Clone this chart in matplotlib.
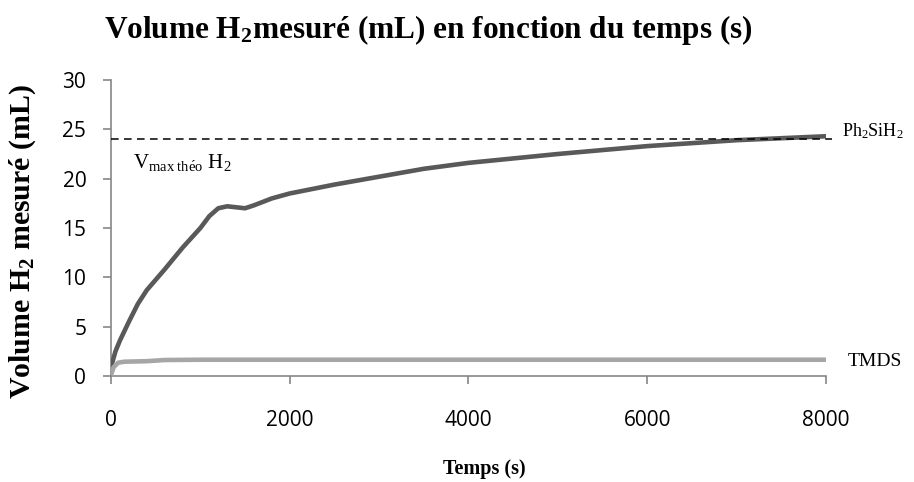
import matplotlib.pyplot as plt
import numpy as np

plt.rcParams["mathtext.fontset"] = "custom"
plt.rcParams["mathtext.rm"] = "Liberation Serif"
plt.rcParams["mathtext.it"] = "Liberation Serif:italic"
plt.rcParams["mathtext.bf"] = "Liberation Serif:bold"

# Ph2SiH2 curve (dark)
t_ph = [0, 50, 100, 200, 300, 400, 600, 800, 1000, 1100, 1200, 1300, 1400,
        1500, 1600, 1800, 2000, 2500, 3000, 3500, 4000, 5000, 6000, 7000, 8000]
v_ph = [0.9, 2.5, 3.6, 5.5, 7.3, 8.7, 10.8, 13.0, 15.0, 16.2, 17.0, 17.2, 17.1,
        17.0, 17.3, 18.0, 18.5, 19.4, 20.2, 21.0, 21.6, 22.5, 23.3, 23.9, 24.3]

# TMDS curve (light)
t_tm = [0, 30, 80, 150, 400, 600, 1000, 2000, 4000, 6000, 8000]
v_tm = [0.1, 0.9, 1.35, 1.45, 1.5, 1.62, 1.65, 1.65, 1.65, 1.65, 1.65]

v_max = 24.0
xticks = [0, 2000, 4000, 6000, 8000]
yticks = [0, 5, 10, 15, 20, 25, 30]

serif = "Liberation Serif"
axis_gray = "#868686"

fig = plt.figure(figsize=(9.14, 4.82), dpi=100)
ax = fig.add_axes([111 / 914, 1 - 376 / 482, 715 / 914, 296 / 482])

ax.plot(t_ph, v_ph, color="#595959", lw=3.3, solid_capstyle="butt", zorder=3)
ax.plot(t_tm, v_tm, color="#a6a6a6", lw=3.3, solid_capstyle="butt", zorder=3)
ax.plot([0, 8070], [v_max, v_max], color="black", lw=1.1, ls=(0, (5, 3.5)),
        clip_on=False, zorder=4)

ax.set_xlim(0, 8000)
ax.set_ylim(0, 30)
ax.set_xticks(xticks)
ax.set_yticks(yticks)
for s in ["top", "right"]:
    ax.spines[s].set_visible(False)
for s in ["left", "bottom"]:
    ax.spines[s].set_color(axis_gray)
    ax.spines[s].set_linewidth(1.2)
ax.tick_params(axis="both", direction="out", length=5.8, color=axis_gray,
               width=1.2, labelsize=15)
ax.tick_params(axis="y", pad=12)
ax.tick_params(axis="x", pad=19)
for lab in ax.get_xticklabels() + ax.get_yticklabels():
    lab.set_family("Open Sans")

ax.text(8179, 24.8, r"Ph$_2$SiH$_2$", family=serif, fontsize=13,
        va="center", ha="left", clip_on=False)
ax.text(8246, 1.47, "TMDS", family=serif, fontsize=14, va="center",
        ha="left", clip_on=False)
ax.text(246, 21.6, r"V$_{\mathrm{max\ th\acute{e}o}}$ H$_2$", family=serif,
        fontsize=15, va="center", ha="left")

fig.text(484 / 914, 1 - 469 / 482, "Temps (s)", family=serif,
         fontweight="bold", fontsize=14.5, ha="center", va="center")
fig.text(23 / 914, 1 - 242 / 482, r"Volume $\mathbf{H_2}$ mesuré (mL)",
         family=serif, fontweight="bold", fontsize=21.5, rotation=90,
         ha="center", va="center")
fig.text(428 / 914, 1 - 38 / 482,
         r"Volume $\mathbf{H_2}$mesuré (mL) en fonction du temps (s)",
         family=serif, fontweight="bold", fontsize=22.5, ha="center",
         va="baseline")

fig.savefig("out.png", dpi=100)
